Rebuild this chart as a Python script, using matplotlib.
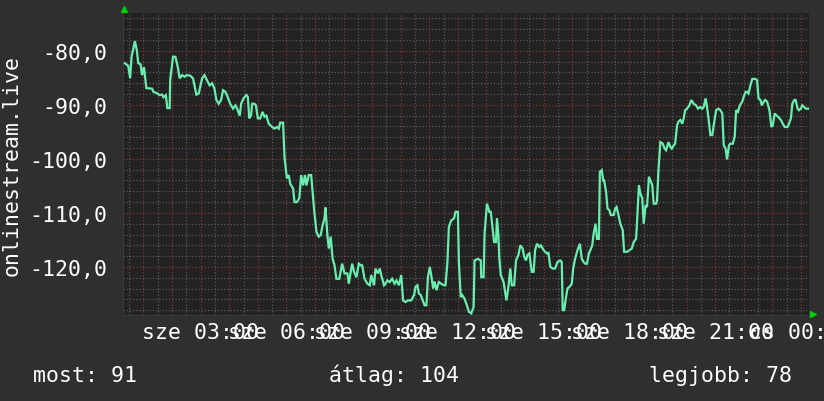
import matplotlib
matplotlib.use("Agg")
import matplotlib.pyplot as plt
from matplotlib.ticker import MultipleLocator, FuncFormatter

# minutes since wednesday 00:00, value
perc = [21, 28, 32, 35, 42, 46, 49, 54, 57, 61, 66, 78, 81, 87, 89, 94, 99, 102, 107, 110,
        115, 116, 122, 127, 132, 136, 141, 146, 151, 158, 164, 171, 176, 183, 188, 193, 199, 204, 209, 213,
        218, 223, 227, 232, 235, 242, 248, 253, 256, 262, 265, 270, 276, 279, 282, 286, 288, 293, 296, 300,
        305, 310, 314, 318, 323, 330, 335, 340, 344, 347, 353, 356, 361, 365, 368, 374, 377, 382, 387, 391,
        395, 399, 402, 407, 412, 418, 423, 428, 432, 436, 440, 442, 446, 449, 453, 457, 461, 465, 471, 477,
        482, 488, 491, 495, 498, 502, 507, 512, 516, 519, 524, 530, 535, 538, 544, 547, 552, 556, 559, 565,
        568, 572, 577, 582, 587, 591, 596, 601, 605, 610, 615, 622, 628, 631, 635, 638, 642, 645, 650, 654,
        657, 661, 664, 668, 671, 675, 680, 685, 690, 694, 698, 701, 706, 712, 715, 720, 722, 726, 729, 734,
        740, 743, 748, 753, 755, 762, 768, 769, 774, 776, 781, 786, 789, 796, 800, 802, 805, 807, 810, 816,
        819, 822, 826, 830, 833, 838, 842, 847, 851, 856, 859, 863, 866, 870, 875, 879, 882, 886, 891, 894,
        900, 903, 907, 910, 914, 919, 924, 929, 935, 938, 940, 943, 947, 950, 954, 959, 962, 966, 971, 976,
        980, 984, 987, 991, 995, 998, 1002, 1005, 1009, 1012, 1016, 1018, 1022, 1025, 1027, 1031, 1034, 1038, 1041, 1047,
        1050, 1053, 1057, 1061, 1066, 1069, 1075, 1080, 1085, 1089, 1094, 1096, 1100, 1103, 1107, 1110, 1114, 1117, 1121, 1124,
        1128, 1131, 1136, 1138, 1141, 1145, 1150, 1154, 1157, 1162, 1166, 1169, 1173, 1176, 1180, 1183, 1187, 1191, 1194, 1197,
        1201, 1206, 1210, 1215, 1220, 1224, 1229, 1233, 1236, 1240, 1243, 1246, 1250, 1254, 1257, 1262, 1267, 1271, 1275, 1278,
        1282, 1285, 1289, 1292, 1297, 1301, 1304, 1308, 1310, 1313, 1317, 1320, 1324, 1327, 1330, 1334, 1338, 1344, 1348, 1351,
        1355, 1358, 1362, 1365, 1369, 1374, 1378, 1381, 1385, 1388, 1392, 1398, 1402, 1406, 1412, 1415, 1419, 1422, 1426, 1429,
        1433, 1436, 1440, 1443, 1447, 1450, 1455]
ertek = [-82.3, -82.8, -85.1, -81.1, -78.2, -79.9, -82.3, -82.5, -84.5, -83.0, -86.9, -87.0, -87.6, -87.8, -87.9, -88.2, -88.1, -88.6, -88.2, -90.6,
         -90.6, -85.4, -81.1, -81.1, -83.0, -85.1, -84.5, -84.8, -84.5, -84.6, -85.1, -88.1, -87.9, -85.1, -84.5, -85.4, -86.4, -86.0, -87.0, -89.1,
         -89.8, -89.1, -87.3, -87.6, -88.2, -89.8, -90.7, -90.1, -90.6, -92.0, -89.8, -88.8, -88.2, -88.5, -92.5, -91.9, -89.8, -89.8, -90.1, -92.5,
         -92.5, -91.3, -92.2, -92.0, -93.5, -94.1, -94.4, -94.1, -94.4, -93.3, -93.3, -99.6, -103.6, -103.0, -104.6, -105.5, -108.0, -108.0, -107.3, -103.0,
         -104.9, -103.0, -104.9, -103.0, -103.0, -109.2, -113.5, -114.4, -114.1, -112.3, -111.0, -109.0, -114.1, -116.6, -114.4, -118.5, -119.7, -122.2, -122.2, -119.4,
         -121.2, -121.2, -123.1, -120.9, -119.4, -120.9, -121.9, -119.4, -119.7, -119.7, -122.2, -123.1, -123.4, -121.5, -123.4, -120.3, -121.2, -120.3, -121.5, -123.4,
         -123.1, -122.5, -122.8, -122.2, -123.1, -122.5, -123.4, -121.5, -126.2, -126.5, -126.2, -126.2, -125.2, -123.7, -123.4, -124.9, -125.2, -125.9, -127.1, -127.1,
         -121.9, -120.0, -121.5, -124.0, -122.7, -124.3, -122.8, -123.1, -123.4, -123.4, -119.1, -112.6, -111.4, -111.0, -109.8, -109.8, -119.1, -125.6, -125.2, -125.9,
         -127.4, -128.3, -128.6, -127.4, -118.8, -118.5, -118.8, -121.9, -121.9, -113.8, -108.3, -109.8, -109.8, -115.4, -115.4, -111.0, -114.1, -118.5, -121.5, -122.8,
         -124.6, -126.2, -123.7, -120.3, -123.4, -123.4, -118.8, -117.8, -116.0, -116.6, -118.1, -118.8, -117.8, -117.5, -120.9, -120.9, -116.9, -115.7, -116.3, -116.0,
         -116.9, -117.2, -117.5, -117.4, -120.0, -120.3, -120.3, -119.1, -118.8, -119.1, -128.0, -128.0, -125.6, -124.0, -123.7, -123.1, -120.3, -118.5, -116.9, -115.7,
         -118.5, -119.1, -119.4, -119.4, -117.5, -116.9, -116.0, -113.8, -112.0, -114.8, -114.8, -102.4, -102.1, -104.0, -104.0, -106.1, -109.2, -109.5, -110.4, -110.4,
         -109.2, -108.9, -110.4, -112.0, -113.2, -117.2, -117.2, -116.9, -116.6, -115.4, -114.8, -111.7, -104.9, -106.4, -107.3, -112.0, -108.6, -108.9, -103.3, -104.0,
         -104.9, -108.3, -108.3, -107.7, -102.1, -96.9, -97.2, -98.1, -98.4, -96.9, -97.8, -98.1, -97.5, -97.2, -93.8, -93.1, -92.8, -93.5, -92.5, -91.0,
         -90.7, -90.1, -89.1, -89.8, -90.1, -90.7, -90.4, -90.7, -90.4, -88.8, -90.4, -92.5, -95.6, -95.6, -93.8, -91.0, -90.7, -91.0, -91.6, -97.5,
         -98.1, -100.1, -97.5, -97.2, -97.2, -95.9, -91.0, -91.3, -90.6, -89.9, -89.4, -88.5, -87.6, -87.6, -87.9, -86.4, -85.2, -85.2, -85.4, -88.8,
         -89.1, -90.1, -89.4, -89.1, -89.4, -91.0, -94.1, -93.8, -91.6, -91.9, -92.2, -92.8, -93.5, -94.1, -94.1, -93.5, -92.5, -89.8, -89.1, -89.1,
         -90.7, -91.0, -90.7, -90.1, -90.4, -90.7, -90.7]

felirat = "onlinestream.live"
napok = {0: "sze", 1: "cs"}
most = 91
atlag = 104
legjobb = 78

bg = "#2f2f2f"
canvas = "#222222"
vonal = "#6aeeb0"
mono = "DejaVu Sans Mono"

fig = plt.figure(figsize=(8.24, 4.02), dpi=100, facecolor=bg)
ax = fig.add_axes([123 / 824, 86 / 402, 686 / 824, 302 / 402])
ax.set_facecolor(canvas)

ax.set_xlim(17, 1457)
ax.set_ylim(-128.9, -73.0)

ax.xaxis.set_major_locator(MultipleLocator(60))
ax.xaxis.set_minor_locator(MultipleLocator(30))
ax.yaxis.set_major_locator(MultipleLocator(10))
ax.yaxis.set_minor_locator(MultipleLocator(2))


def xfmt(m, pos):
    m = int(round(m))
    if m % 180:
        return ""
    return "%s %02d:00" % (napok[m // 1440], (m // 60) % 24)


ax.xaxis.set_major_formatter(FuncFormatter(xfmt))
ax.yaxis.set_major_formatter(FuncFormatter(lambda v, p: ("%.1f" % v).replace(".", ",")))

ax.grid(which="minor", color="#595959", linestyle=(0, (1, 1.6)), linewidth=0.9)
ax.grid(which="major", color="#8a3434", linestyle=(0, (1, 1.6)), linewidth=0.9)
ax.set_axisbelow(True)

ax.tick_params(which="both", length=0, colors="white")
ax.tick_params(axis="x", pad=5, labelsize=15.5)
ax.tick_params(axis="y", pad=11, labelsize=15.5)
for lab in ax.get_xticklabels() + ax.get_yticklabels():
    lab.set_fontfamily(mono)

for s in ["top", "right"]:
    ax.spines[s].set_visible(False)
for s in ["left", "bottom"]:
    ax.spines[s].set_color("#3a3a3a")

ax.plot(perc, ertek, color=vonal, linewidth=1.6, solid_joinstyle="miter", zorder=3)

# green arrows
ax.plot([0.002], [1.013], marker="^", color="#00cc00", markersize=5,
        transform=ax.transAxes, clip_on=False)
ax.plot([1.006], [0.004], marker=">", color="#00cc00", markersize=5,
        transform=ax.transAxes, clip_on=False)

fig.text(12 / 824, 1 - 165 / 402, felirat, rotation=90, color="white",
         family=mono, fontsize=15.5, ha="center", va="center")

fig.text(33 / 824, 20 / 402, "most: %d" % most, color="white", family=mono,
         fontsize=15.5, ha="left", va="baseline")
fig.text(329 / 824, 20 / 402, "átlag: %d" % atlag, color="white", family=mono,
         fontsize=15.5, ha="left", va="baseline")
fig.text(792 / 824, 20 / 402, "legjobb: %d" % legjobb, color="white", family=mono,
         fontsize=15.5, ha="right", va="baseline")

fig.savefig("out.png", dpi=100, facecolor=bg)
